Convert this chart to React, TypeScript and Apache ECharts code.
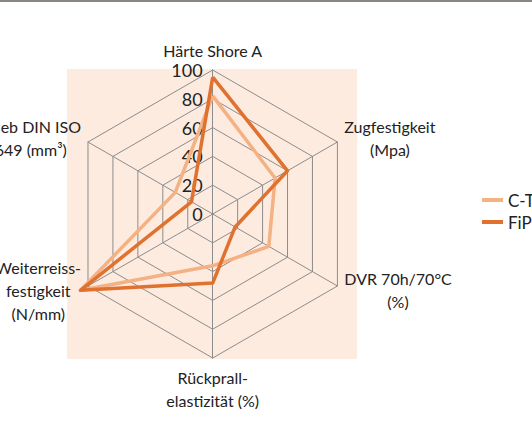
import React, { useEffect, useRef } from 'react';
import * as echarts from 'echarts';

// Indicators in counter-clockwise order starting at the top
const indicatorNames = [
  'Härte Shore A',
  'Abrieb DIN ISO\n4649 (mm³)',
  'Weiterreiss-\nfestigkeit\n(N/mm)',
  'Rückprall-\nelastizität (%)',
  'DVR 70h/70°C\n(%)',
  'Zugfestigkeit\n(Mpa)',
];
const seriesNames = ['C-T', 'FiPu'];
const ctValues = [82, 30, 106, 36, 45, 50];
const fipuValues = [95, 17, 106, 48, 18, 60];
const axisMin = 0;
const axisMax = 100;
const axisStep = 20;

const FONT = 'Lato';

export default function App() {
  const ref = useRef<HTMLDivElement>(null);
  useEffect(() => {
    if (!ref.current) return;
    const chart = echarts.init(ref.current, null, { renderer: 'svg' });
    const cx = 212.7;
    const cy = 214;
    const R = 144;
    chart.setOption({
      animation: false,
      backgroundColor: '#ffffff',
      textStyle: { fontFamily: FONT },
      graphic: [
        { type: 'rect', left: 0, top: 0, shape: { width: 532, height: 2 }, style: { fill: '#8c8682' }, z: 0 },
        { type: 'rect', left: 67, top: 69, shape: { width: 290, height: 290 }, style: { fill: '#fdebe0' }, z: 0 },
      ],
      legend: {
        orient: 'vertical',
        left: 482,
        top: 190,
        padding: 0,
        itemWidth: 21,
        itemHeight: 4,
        itemGap: 2,
        icon: 'rect',
        data: seriesNames,
        textStyle: { fontFamily: FONT, fontSize: 17, color: '#222', lineHeight: 20 },
      },
      radar: {
        center: [cx, cy],
        radius: R,
        startAngle: 90,
        shape: 'polygon',
        splitNumber: 5,
        indicator: indicatorNames.map((n) => ({ name: n, min: axisMin, max: axisMax })),
        axisName: {
          color: '#222',
          fontFamily: FONT,
          fontSize: 16,
          lineHeight: 23,
          formatter: (name: string) => name.split('\n').map((l) => `{c|${l}}`).join('\n'),
          rich: { c: { align: 'center', fontFamily: FONT, fontSize: 16, lineHeight: 23, color: '#222' } },
        },
        nameGap: 8,
        axisLine: { lineStyle: { color: '#8c8c8c', width: 1 } },
        splitLine: { lineStyle: { color: '#8c8c8c', width: 1 } },
        splitArea: { show: false },
        axisLabel: { show: false },
        axisTick: { show: false },
      },
      polar: { center: [cx, cy], radius: R },
      angleAxis: { show: false, startAngle: 90, min: 0, max: 360 },
      radiusAxis: {
        min: axisMin,
        max: axisMax,
        interval: axisStep,
        axisLine: { show: false },
        axisTick: { show: false },
        splitLine: { show: false },
        axisLabel: { show: true, margin: 10, fontFamily: FONT, fontSize: 18, color: '#222' },
      },
      series: [
        {
          type: 'radar',
          name: seriesNames[0],
          symbol: 'none',
          lineStyle: { color: '#f4b183', width: 3.5 },
          itemStyle: { color: '#f4b183' },
          data: [{ value: ctValues, name: seriesNames[0] }],
        },
        {
          type: 'radar',
          name: seriesNames[1],
          symbol: 'none',
          lineStyle: { color: '#e0712f', width: 3.5 },
          itemStyle: { color: '#e0712f' },
          data: [{ value: fipuValues, name: seriesNames[1] }],
        },
      ],
    });
    return () => chart.dispose();
  }, []);
  return <div ref={ref} style={{ position: 'fixed', left: 0, top: 0, width: 532, height: 429 }} />;
}
